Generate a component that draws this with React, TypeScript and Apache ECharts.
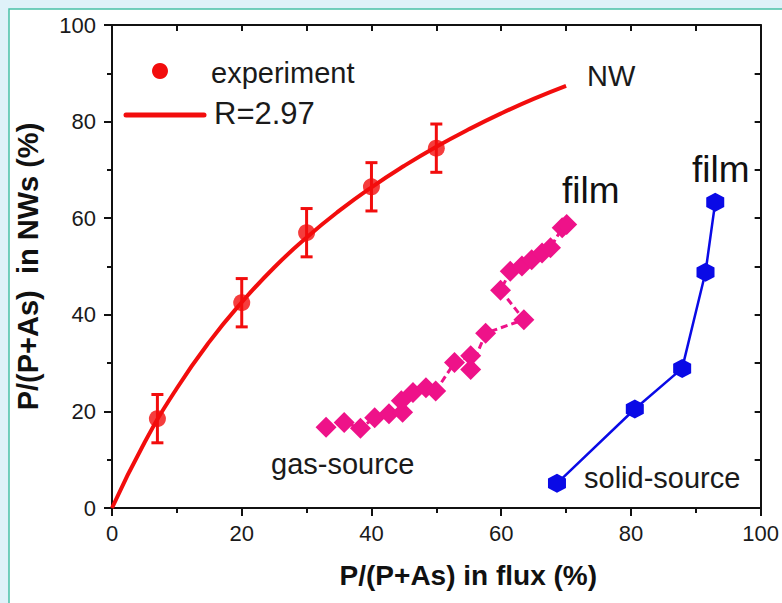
import React, { useEffect, useRef } from "react";
import * as echarts from "echarts";

// Fit curve (R = 2.97)
const curveX = [0, 5, 10, 15, 20, 25, 30, 35, 40, 45, 50, 55, 60, 65, 70];
const curveY = [0, 13.5, 24.8, 34.4, 42.6, 49.8, 56.0, 61.5, 66.4, 70.8, 74.8, 78.4, 81.7, 84.7, 87.4];

// Experiment (NW) points with error bars
const expX = [7, 20, 30, 40, 50];
const expY = [18.5, 42.5, 57, 66.5, 74.5];
const expErr = [5, 5, 5, 5, 5];

// Gas-source film
const gasX = [33.0, 35.8, 38.3, 40.5, 42.7, 44.8, 44.6, 46.4, 48.4, 49.9, 52.8, 55.3, 55.3, 57.6, 63.5, 59.9, 61.4, 63.2, 64.7, 66.3, 67.6, 69.4, 70.1];
const gasY = [16.7, 17.7, 16.5, 18.7, 19.5, 19.8, 22.2, 23.9, 24.9, 24.2, 30.1, 31.5, 28.7, 36.2, 39.0, 45.1, 49.0, 50.1, 51.4, 52.8, 53.9, 58.0, 58.7];

// Solid-source film
const solidX = [68.6, 80.6, 87.9, 91.5, 93.0];
const solidY = [5.1, 20.5, 28.9, 48.8, 63.3];

const xTicks = [0, 20, 40, 60, 80, 100];
const yTicks = [0, 20, 40, 60, 80, 100];

const FONT = "Liberation Sans";
const RED = "#f20d0d";
const PINK = "#ee1289";
const BLUE = "#0a0ae6";

export default function App() {
  const ref = useRef<HTMLDivElement>(null);

  useEffect(() => {
    document.body.style.margin = "0";
    const chart = echarts.init(ref.current!, null, { renderer: "svg" });

    const errData = expX.map((x, i) => [x, expY[i], expErr[i]]);

    const option: any = {
      animation: false,
      backgroundColor: "#dff2f9",
      textStyle: { fontFamily: FONT },
      grid: { left: 112, right: 20, top: 25, bottom: 95, containLabel: false },
      xAxis: [
        {
          type: "value",
          position: "bottom",
          min: 0,
          max: 100,
          interval: 20,
          name: "P/(P+As) in flux (%)",
          nameLocation: "middle",
          nameGap: 53,
          nameTextStyle: { fontFamily: FONT, fontWeight: "bold", fontSize: 28, color: "#111", padding: [0, 0, 0, 64] },
          axisLine: { show: true, onZero: false, lineStyle: { color: "#111", width: 2 } },
          axisTick: { show: true, inside: false, length: 8, lineStyle: { color: "#111", width: 2 } },
          minorTick: { show: true, splitNumber: 2, length: 5, lineStyle: { color: "#111", width: 2 } },
          axisLabel: {
            fontFamily: FONT, fontSize: 22, color: "#1a1a1a", margin: 14,
            formatter: (v: number) => (xTicks.includes(v) ? String(v) : ""),
          },
          splitLine: { show: false },
        },
        {
          type: "value",
          position: "top",
          min: 0,
          max: 100,
          interval: 10,
          axisLine: { show: true, onZero: false, lineStyle: { color: "#111", width: 2 } },
          axisTick: { show: true, inside: true, length: 6, lineStyle: { color: "#111", width: 2 } },
          axisLabel: { show: false },
          splitLine: { show: false },
        },
      ],
      yAxis: [
        {
          type: "value",
          position: "left",
          min: 0,
          max: 100,
          interval: 20,
          name: "P/(P+As)  in NWs (%)",
          nameLocation: "middle",
          nameGap: 70,
          nameRotate: 90,
          nameTextStyle: { fontFamily: FONT, fontWeight: "bold", fontSize: 29, color: "#111" },
          axisLine: { show: true, onZero: false, lineStyle: { color: "#111", width: 2 } },
          axisTick: { show: true, inside: false, length: 8, lineStyle: { color: "#111", width: 2 } },
          minorTick: { show: true, splitNumber: 2, length: 5, lineStyle: { color: "#111", width: 2 } },
          axisLabel: {
            fontFamily: FONT, fontSize: 22, color: "#1a1a1a", margin: 16,
            formatter: (v: number) => (yTicks.includes(v) ? String(v) : ""),
          },
          splitLine: { show: false },
        },
        {
          type: "value",
          position: "right",
          min: 0,
          max: 100,
          interval: 10,
          axisLine: { show: true, onZero: false, lineStyle: { color: "#111", width: 2 } },
          axisTick: { show: true, inside: true, length: 6, lineStyle: { color: "#111", width: 2 } },
          axisLabel: { show: false },
          splitLine: { show: false },
        },
      ],
      graphic: [
        {
          type: "rect",
          z: -10,
          silent: true,
          shape: { x: 9, y: 9, width: 800, height: 620 },
          style: { fill: "#ffffff", stroke: "#49c1a6", lineWidth: 1.5 },
        },
        { type: "circle", z: 10, shape: { cx: 160, cy: 71, r: 8 }, style: { fill: RED } },
        { type: "line", z: 10, shape: { x1: 126, y1: 115, x2: 204, y2: 115 }, style: { stroke: RED, lineWidth: 5, lineCap: "round" } },
        { type: "text", z: 10, x: 211, y: 73, style: { text: "experiment", fontFamily: FONT, fontSize: 29, fill: "#1a1a1a", verticalAlign: "middle", align: "left" } },
        { type: "text", z: 10, x: 214, y: 113, style: { text: "R=2.97", fontFamily: FONT, fontSize: 31, fill: "#1a1a1a", verticalAlign: "middle", align: "left" } },
        { type: "text", z: 10, x: 587, y: 76, style: { text: "NW", fontFamily: FONT, fontSize: 29, fill: "#1a1a1a", verticalAlign: "middle", align: "left" } },
        { type: "text", z: 10, x: 562, y: 190, style: { text: "film", fontFamily: FONT, fontSize: 37, fill: "#111", verticalAlign: "middle", align: "left" } },
        { type: "text", z: 10, x: 692, y: 169, style: { text: "film", fontFamily: FONT, fontSize: 37, fill: "#111", verticalAlign: "middle", align: "left" } },
        { type: "text", z: 10, x: 271, y: 464, style: { text: "gas-source", fontFamily: FONT, fontSize: 29, fill: "#1a1a1a", verticalAlign: "middle", align: "left" } },
        { type: "text", z: 10, x: 584, y: 478, style: { text: "solid-source", fontFamily: FONT, fontSize: 29, fill: "#1a1a1a", verticalAlign: "middle", align: "left" } },
      ],
      series: [
        {
          name: "R=2.97",
          type: "line",
          xAxisIndex: 0,
          yAxisIndex: 0,
          data: curveX.map((x, i) => [x, curveY[i]]),
          smooth: true,
          showSymbol: false,
          lineStyle: { color: RED, width: 4 },
          z: 3,
        },
        {
          name: "error",
          type: "custom",
          xAxisIndex: 0,
          yAxisIndex: 0,
          data: errData,
          renderItem: (params: any, api: any) => {
            const x = api.value(0);
            const y = api.value(1);
            const e = api.value(2);
            const top = api.coord([x, y + e]);
            const bot = api.coord([x, y - e]);
            const hw = 6;
            const st = { stroke: RED, lineWidth: 3 };
            return {
              type: "group",
              children: [
                { type: "line", shape: { x1: top[0], y1: top[1], x2: bot[0], y2: bot[1] }, style: st },
                { type: "line", shape: { x1: top[0] - hw, y1: top[1], x2: top[0] + hw, y2: top[1] }, style: st },
                { type: "line", shape: { x1: bot[0] - hw, y1: bot[1], x2: bot[0] + hw, y2: bot[1] }, style: st },
              ],
            };
          },
          z: 4,
        },
        {
          name: "experiment",
          type: "scatter",
          xAxisIndex: 0,
          yAxisIndex: 0,
          data: expX.map((x, i) => [x, expY[i]]),
          symbol: "circle",
          symbolSize: 17,
          itemStyle: { color: RED },
          z: 5,
        },
        {
          name: "gas-source",
          type: "line",
          xAxisIndex: 0,
          yAxisIndex: 0,
          data: gasX.map((x, i) => [x, gasY[i]]),
          symbol: "diamond",
          symbolSize: [21, 21],
          showAllSymbol: true,
          lineStyle: { color: PINK, width: 3, type: [7, 4] },
          itemStyle: { color: PINK },
          z: 3,
        },
        {
          name: "solid-source",
          type: "line",
          xAxisIndex: 0,
          yAxisIndex: 0,
          data: solidX.map((x, i) => [x, solidY[i]]),
          symbol: "path://M0,-1 L0.866,-0.5 L0.866,0.5 L0,1 L-0.866,0.5 L-0.866,-0.5 Z",
          symbolSize: [18, 19],
          lineStyle: { color: BLUE, width: 2.5 },
          itemStyle: { color: BLUE },
          z: 3,
        },
      ],
    };

    chart.setOption(option);
    return () => chart.dispose();
  }, []);

  return (
    <div
      ref={ref}
      style={{ position: "absolute", left: 0, top: 0, width: 782, height: 603 }}
    />
  );
}
